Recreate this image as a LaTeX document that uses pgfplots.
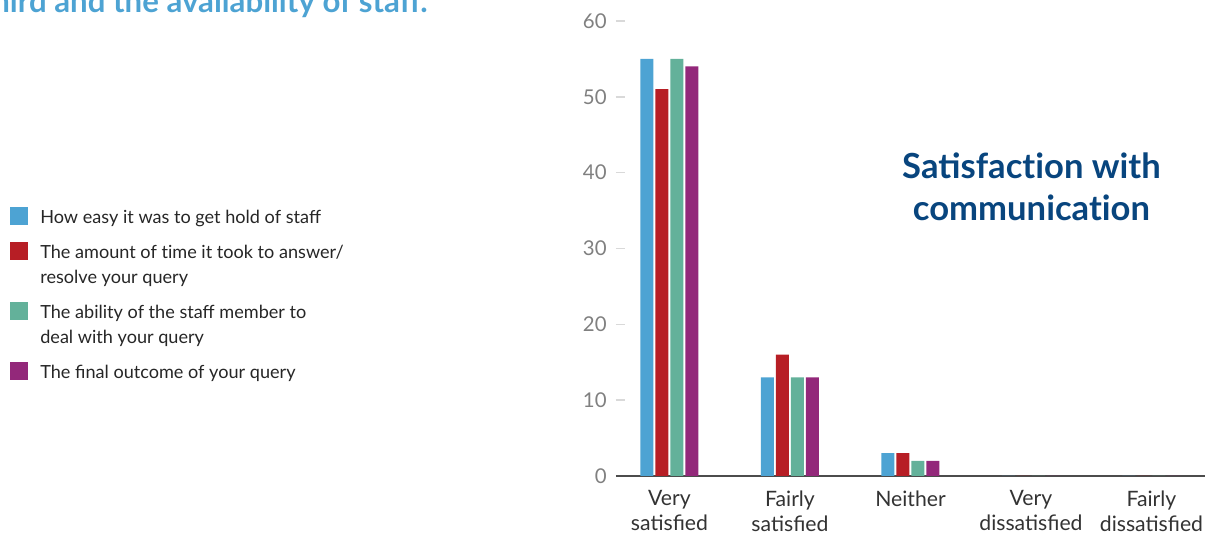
\documentclass[border=0pt]{standalone}
\usepackage{fontspec}
\setmainfont{Lato}
\usepackage{pgfplots}
\pgfplotsset{compat=1.18}
\definecolor{cblue}{RGB}{77,163,211}
\definecolor{cred}{RGB}{183,30,37}
\definecolor{cgreen}{RGB}{99,177,154}
\definecolor{cpurple}{RGB}{147,40,122}
\definecolor{ctitle}{RGB}{8,69,126}
\newcommand{\ti}{t\kern0pt i}
\pgfplotsset{
  sqlegend/.style={legend image code/.code={\fill[##1] (0pt,-4.5pt) rectangle (9pt,4.5pt);}},
  sqlegendtwo/.style={legend image code/.code={\fill[##1] (0pt,1.75pt) rectangle (9pt,10.75pt);}}
}
\begin{document}
\begin{tikzpicture}[x=1pt,y=1pt]
\useasboundingbox (0,0) rectangle (606,267);
\node[anchor=base east, font=\fontsize{15.6}{18}\selectfont\bfseries, text=cblue, inner sep=0pt] at (214,260.5) {third and the availability of staff.};
\begin{axis}[
  at={(308pt,29pt)}, anchor=south west,
  scale only axis, width=294.5pt, height=227.5pt,
  xmin=-0.444, xmax=4.444, ymin=0, ymax=60,
  ybar=1pt, bar width=6.5pt,
  axis x line*=bottom, axis y line*=left,
  x axis line style={draw=black!70, line width=1pt},
  y axis line style={draw=none},
  xtick={0,1,2,3,4},
  xticklabels={{Very\\satisfied},{Fairly\\satisfied},{Neither},{Very\\dissatisfied},{Fairly\\dissatisfied}},
  x tick style={draw=none},
  xticklabel style={align=center, font=\fontsize{10.6}{12.5}\selectfont, text=black!80, inner sep=0pt, anchor=north},
  xticklabel shift=7pt,
  ytick={0,10,20,30,40,50,60},
  y tick style={draw=black!15, line width=0.8pt},
  tick align=inside, major tick length=4.5pt,
  yticklabel style={font=\fontsize{10.2}{12}\selectfont, text=black!50, inner sep=0pt},
  yticklabel shift=4.5pt,
  /pgf/number format/assume math mode=true,
  legend style={at={(-1.029,0.5945)}, anchor=north west, draw=none, fill=none, inner sep=0pt,
    row sep=7.2pt, column sep=6pt, font=\fontsize{9.05}{12.5}\selectfont, text=black!85,
    nodes={inner sep=0pt, align=left}},
  legend cell align=left,
]
\addplot[fill=cblue, draw=none, sqlegend] coordinates {(0,55) (1,13) (2,3) (3,0) (4,0)};
\addlegendentry{\strut How easy it was to get hold of staff}
\addplot[fill=cred, draw=none, sqlegendtwo] coordinates {(0,51) (1,16) (2,3) (3,0) (4,0)};
\addlegendentry{\strut The amount of \ti me it took to answer/\\\strut resolve your query}
\addplot[fill=cgreen, draw=none, sqlegendtwo] coordinates {(0,55) (1,13) (2,2) (3,0) (4,0)};
\addlegendentry{\strut The ability of the staff member to\\\strut deal with your query}
\addplot[fill=cpurple, draw=none, sqlegend] coordinates {(0,54) (1,13) (2,2) (3,0) (4,0)};
\addlegendentry{\strut The final outcome of your query}
\node[align=center, font=\fontsize{17.3}{21}\selectfont\bfseries, text=ctitle] at (axis cs:3.004,38.1) {Satisfac\ti on with\\communica\ti on};
\end{axis}
\end{tikzpicture}
\end{document}
